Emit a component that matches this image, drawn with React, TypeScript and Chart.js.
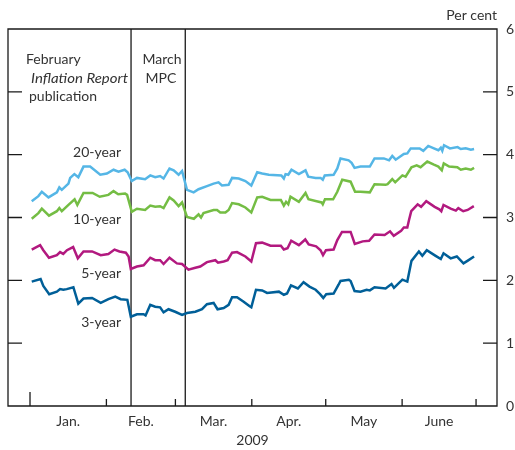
import React, { useEffect, useRef } from "react";
import { Chart, registerables } from "chart.js";

Chart.register(...registerables);

// ---- Data (x = days since 1 Jan 2009, y = per cent) ----
const yr20Days = [0.7,3.4,4.8,7.5,10.9,11.9,12.9,15.6,16.3,18.0,19.6,21.7,24.4,28.5,31.2,33.9,35.9,38.4,39.6,41.3,43.4,46.7,48.8,50.8,52.8,54.2,56.6,58.3,60.3,61.7,63.7,66.4,68.4,71.8,74.5,76.5,77.9,80.6,82.0,84.7,87.4,89.8,92.2,94.2,96.9,102.0,103.0,103.7,104.8,106.1,109.1,111.8,112.9,115.9,117.9,118.8,119.6,123.2,124.7,126.0,129.3,130.5,131.7,134.1,137.9,139.8,143.6,145.7,147.0,148.4,151.7,153.1,154.5,158.1,159.6,161.6,163.9,165.7,166.7,167.3,168.0,170.4,173.5,174.8,176.8,178.9,180.2];
const yr20Values = [3.26,3.34,3.41,3.32,3.40,3.48,3.44,3.54,3.63,3.69,3.64,3.81,3.81,3.68,3.70,3.76,3.73,3.76,3.72,3.58,3.63,3.61,3.67,3.64,3.66,3.62,3.78,3.75,3.68,3.74,3.44,3.40,3.45,3.50,3.54,3.56,3.51,3.52,3.63,3.62,3.58,3.51,3.72,3.70,3.68,3.67,3.62,3.69,3.68,3.76,3.69,3.75,3.65,3.63,3.63,3.60,3.67,3.68,3.78,3.94,3.91,3.87,3.79,3.81,3.81,3.94,3.94,3.91,3.98,3.92,4.01,4.02,4.10,4.10,4.06,4.14,4.10,4.07,4.11,4.06,4.15,4.10,4.12,4.09,4.10,4.08,4.09];

const yr10Days = [0.7,3.4,4.8,7.7,10.9,11.9,12.9,15.6,18.1,19.2,21.7,25.4,28.3,31.8,33.9,35.8,38.6,39.4,41.3,43.4,46.7,48.8,50.8,52.8,54.2,56.6,58.3,60.3,61.7,63.7,66.5,68.4,69.4,70.4,74.5,75.9,77.2,79.3,80.6,82.0,84.7,87.4,89.8,92.2,94.2,97.6,101.8,103.0,103.9,104.8,105.7,109.1,111.8,113.0,116.3,118.3,118.8,119.7,123.0,124.7,126.7,130.1,131.9,134.1,137.9,139.8,144.3,145.1,147.0,148.2,151.1,152.4,154.8,156.9,158.5,161.2,163.9,165.7,167.1,167.9,170.1,173.4,174.8,176.8,178.9,180.2];
const yr10Values = [2.98,3.07,3.14,3.03,3.10,3.15,3.10,3.20,3.29,3.20,3.39,3.39,3.33,3.36,3.42,3.37,3.38,3.36,3.09,3.14,3.12,3.19,3.17,3.18,3.15,3.32,3.27,3.18,3.24,3.01,2.98,3.05,3.00,3.07,3.12,3.12,3.08,3.08,3.12,3.23,3.21,3.16,3.08,3.32,3.33,3.28,3.28,3.19,3.25,3.21,3.33,3.25,3.39,3.29,3.26,3.24,3.21,3.29,3.29,3.41,3.60,3.57,3.41,3.41,3.40,3.53,3.52,3.53,3.61,3.56,3.67,3.65,3.80,3.83,3.80,3.89,3.84,3.81,3.75,3.86,3.81,3.80,3.76,3.78,3.76,3.79];

const yr5Days = [0.7,4.1,5.4,7.7,10.9,12.2,13.5,15.0,17.5,19.4,21.7,25.2,28.7,31.8,34.3,36.3,38.9,40.0,40.9,43.4,46.1,48.8,50.8,52.8,54.2,56.6,59.6,61.7,64.3,67.1,69.1,71.8,75.2,76.3,78.6,80.2,82.0,84.0,87.4,89.8,91.7,94.2,97.6,101.8,103.0,104.5,106.0,109.1,111.7,113.1,116.1,117.9,118.9,120.1,123.2,124.7,126.6,130.1,131.8,135.0,137.6,139.8,143.9,146.1,147.6,150.6,151.7,153.1,153.8,154.7,157.3,158.7,160.8,164.2,166.1,166.9,167.8,170.7,172.8,173.8,175.8,177.6,180.1];
const yr5Values = [2.49,2.56,2.48,2.36,2.40,2.45,2.42,2.48,2.53,2.35,2.46,2.46,2.40,2.42,2.49,2.46,2.44,2.38,2.18,2.22,2.24,2.36,2.32,2.32,2.26,2.36,2.27,2.26,2.17,2.20,2.22,2.29,2.32,2.28,2.30,2.32,2.44,2.45,2.38,2.30,2.59,2.60,2.55,2.55,2.49,2.51,2.63,2.56,2.65,2.57,2.54,2.48,2.40,2.48,2.49,2.64,2.77,2.77,2.58,2.62,2.63,2.73,2.72,2.78,2.71,2.79,2.84,2.84,2.96,3.10,3.21,3.17,3.26,3.17,3.13,3.10,3.20,3.14,3.11,3.15,3.10,3.12,3.18];

const yr3Days = [0.7,4.3,5.4,7.8,10.9,12.2,13.5,14.9,17.6,19.6,21.7,25.2,28.7,31.8,34.6,36.8,39.5,40.9,43.4,46.1,46.9,48.8,50.8,52.8,54.2,56.2,58.9,61.7,63.7,67.1,69.8,71.8,74.5,76.1,78.6,80.6,82.0,84.0,86.7,89.0,89.8,91.7,94.2,96.2,101.0,103.0,104.3,105.9,108.7,111.0,113.4,115.9,117.7,119.0,120.2,123.2,125.2,126.0,129.4,130.1,131.7,134.1,136.6,137.9,139.8,144.3,146.7,147.7,151.1,153.1,154.8,157.8,159.2,161.0,164.6,166.7,167.8,170.7,173.2,175.9,177.5,180.2];
const yr3Values = [1.98,2.02,1.91,1.78,1.82,1.86,1.85,1.86,1.89,1.63,1.71,1.72,1.64,1.70,1.74,1.70,1.69,1.42,1.46,1.46,1.44,1.61,1.58,1.57,1.49,1.54,1.50,1.45,1.48,1.50,1.54,1.62,1.64,1.54,1.56,1.61,1.73,1.73,1.66,1.59,1.57,1.85,1.84,1.80,1.82,1.77,1.79,1.92,1.87,1.97,1.90,1.85,1.78,1.72,1.78,1.79,1.93,1.99,2.01,1.99,1.83,1.82,1.85,1.84,1.89,1.87,1.94,1.88,2.01,1.98,2.31,2.46,2.39,2.48,2.39,2.34,2.43,2.35,2.38,2.27,2.31,2.38];

const monthStartDays = [0, 31, 59, 90, 120, 151, 181];
const monthLabels = ["Jan.", "Feb.", "Mar.", "Apr.", "May", "June"];
const eventDays = [41, 63]; // Feb Inflation Report (11 Feb), March MPC (5 Mar)
const yTicks = [0, 1, 2, 3, 4, 5, 6];
const xMin = -8.93;
const xMax = 189.5;

const FONT_FAMILY = "Lato, 'Open Sans', 'DejaVu Sans', sans-serif";
const TEXT_COLOR = "#333333";
const LINE_COLOR = "#1a1a1a";

const zip = (xs: number[], ys: number[]) =>
  xs.slice(0, Math.min(xs.length, ys.length)).map((x, i) => ({ x, y: ys[i] }));

const monthMids = monthLabels.map((_, i) => (monthStartDays[i] + monthStartDays[i + 1]) / 2);

const framePlugin = {
  id: "frame",
  beforeDatasetsDraw(chart: any) {
    const { ctx, chartArea, scales } = chart;
    const { left, right, top, bottom } = chartArea;
    const xs = scales.x;
    const ys = scales.y;
    ctx.save();
    ctx.strokeStyle = LINE_COLOR;
    ctx.lineWidth = 1.3;
    ctx.beginPath();
    ctx.rect(left, top, right - left, bottom - top);
    ctx.stroke();
    // inward y ticks
    ctx.beginPath();
    yTicks.slice(1, -1).forEach((v) => {
      const py = ys.getPixelForValue(v);
      ctx.moveTo(left, py);
      ctx.lineTo(left + 14, py);
      ctx.moveTo(right, py);
      ctx.lineTo(right - 14, py);
    });
    // x ticks at month boundaries
    monthStartDays.forEach((d, i) => {
      const px = xs.getPixelForValue(d);
      ctx.moveTo(px, bottom);
      ctx.lineTo(px, bottom - (i === 0 ? 14 : 7));
    });
    // event lines
    eventDays.forEach((d) => {
      const px = xs.getPixelForValue(d);
      ctx.moveTo(px, top);
      ctx.lineTo(px, bottom);
    });
    ctx.stroke();

    // annotations
    ctx.fillStyle = TEXT_COLOR;
    ctx.textBaseline = "alphabetic";
    const f = `14px ${FONT_FAMILY}`;
    ctx.font = f;
    ctx.textAlign = "left";
    ctx.fillText("February", 26, 64);
    ctx.save();
    ctx.font = `italic 14px ${FONT_FAMILY}`;
    ctx.translate(31, 82.5);
    ctx.scale(1.07, 1);
    ctx.fillText("Inflation Report", 0, 0);
    ctx.restore();
    ctx.font = f;
    ctx.fillText("publication", 29, 101);
    ctx.textAlign = "center";
    ctx.fillText("March", 162, 64);
    ctx.fillText("MPC", 161, 83);
    ctx.textAlign = "right";
    ctx.fillText("20-year", 121, 157);
    ctx.fillText("10-year", 121, 224);
    ctx.fillText("5-year", 121, 278);
    ctx.fillText("3-year", 121, 327);
    ctx.fillText("Per cent", right, 20);
    ctx.restore();
  },
};

export default function App() {
  const ref = useRef<HTMLCanvasElement>(null);
  useEffect(() => {
    const font = { family: FONT_FAMILY, size: 14 };
    const ds = (label: string, data: any[], color: string) => ({
      label,
      data,
      borderColor: color,
      backgroundColor: color,
      borderWidth: 2.5,
      pointRadius: 0,
      tension: 0,
      fill: false,
    });
    const chart = new Chart(ref.current!, {
      type: "line",
      data: {
        datasets: [
          ds("20-year", zip(yr20Days, yr20Values), "#55b6e6"),
          ds("10-year", zip(yr10Days, yr10Values), "#74bd44"),
          ds("5-year", zip(yr5Days, yr5Values), "#b2197f"),
          ds("3-year", zip(yr3Days, yr3Values), "#005f98"),
        ],
      },
      options: {
        responsive: false,
        animation: false,
        layout: { padding: { left: 8, top: 29, right: 0, bottom: 0 } },
        plugins: { legend: { display: false }, tooltip: { enabled: false } },
        scales: {
          x: {
            type: "linear",
            position: "bottom",
            min: xMin,
            max: xMax,
            grid: { display: false, drawTicks: false },
            border: { display: false },
            afterBuildTicks: (s: any) => {
              s.ticks = monthMids.map((v) => ({ value: v }));
            },
            ticks: {
              autoSkip: false,
              maxRotation: 0,
              padding: 7,
              color: TEXT_COLOR,
              font,
              callback: (_v: any, i: number) => monthLabels[i],
            },
            title: {
              display: true,
              text: "2009",
              color: TEXT_COLOR,
              font,
              padding: { top: 0, bottom: 1 },
            },
            afterFit: (s: any) => {
              s.height = 44;
            },
          },
          y: {
            type: "linear",
            position: "right",
            min: 0,
            max: 6,
            grid: { display: false, drawTicks: false },
            border: { display: false },
            afterBuildTicks: (s: any) => {
              s.ticks = yTicks.map((v) => ({ value: v }));
            },
            ticks: { padding: 9, color: TEXT_COLOR, font },
            afterFit: (s: any) => {
              s.width = 18;
            },
          },
        },
      },
      plugins: [framePlugin],
    } as any);
    return () => chart.destroy();
  }, []);
  return (
    <div style={{ position: "absolute", left: 0, top: 0, width: 515, height: 450, background: "#fff" }}>
      <canvas ref={ref} width={515} height={450} style={{ display: "block" }} />
    </div>
  );
}
